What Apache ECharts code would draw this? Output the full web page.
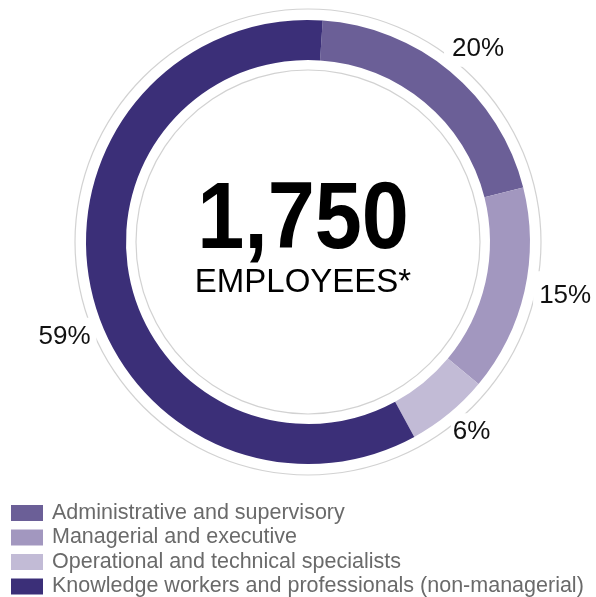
<!DOCTYPE html>
<html>
<head>
<meta charset="utf-8">
<script src="https://cdn.jsdelivr.net/npm/echarts@6/dist/echarts.min.js"></script>
<style>
  html, body { margin: 0; padding: 0; background: #fff; }
  #chart { width: 596px; height: 597px; }
</style>
</head>
<body>
<div id="chart"></div>
<script>
// Workforce breakdown by role group
var categories = [
  'Administrative and supervisory',
  'Managerial and executive',
  'Operational and technical specialists',
  'Knowledge workers and professionals (non-managerial)'
];
var shares = [20, 15, 6, 59];
var colors = ['#6b5f97', '#a297bf', '#c2bbd6', '#3b2f78'];
var totalEmployees = 1750;
var totalCaption = 'EMPLOYEES*';

// Per-slice label placement tweaks (offset and white padding that breaks the outer ring)
var labelTweaks = [
  { offset: [-20, -12], padding: [8, 4, 2, 8] },
  { offset: [-10, 2], padding: [12, 4, 12, 6] },
  { offset: [-12, 7], padding: [6, 4, 4, 2] },
  { offset: [24, 44], padding: [8, 6, 4, 4] }
];

var font = '"Liberation Sans", Arial, Helvetica, sans-serif';
var center = [308, 242];

var pieData = categories.map(function (name, i) {
  return {
    name: name,
    value: shares[i],
    itemStyle: { color: colors[i] },
    label: {
      offset: labelTweaks[i].offset,
      padding: labelTweaks[i].padding
    }
  };
});

function ring(r) {
  return {
    type: 'pie',
    silent: true,
    center: center,
    radius: [r - 0.6, r + 0.6],
    label: { show: false },
    labelLine: { show: false },
    legendHoverLink: false,
    data: [{ name: '', value: 1, itemStyle: { color: '#d2d2d2' } }],
    z: 1
  };
}

var chart = echarts.init(document.getElementById('chart'), null, { renderer: 'canvas' });
chart.setOption({
  animation: false,
  backgroundColor: '#ffffff',
  legend: {
    orient: 'vertical',
    left: 11,
    top: 502,
    height: 120,
    padding: 0,
    icon: 'rect',
    itemWidth: 32,
    itemHeight: 16,
    itemGap: 2.5,
    selectedMode: false,
    data: categories,
    textStyle: { fontFamily: font, fontSize: 21.5, color: '#6a6a6a', padding: [0, 0, 0, 4] }
  },
  graphic: [
    {
      type: 'text',
      x: 303,
      y: 222,
      scaleX: 0.9,
      originX: 0,
      style: {
        text: echarts.format.addCommas(totalEmployees),
        font: 'bold 94px ' + font,
        fill: '#000',
        align: 'center',
        verticalAlign: 'middle'
      }
    },
    {
      type: 'text',
      x: 303,
      y: 283,
      style: {
        text: totalCaption,
        font: '33px ' + font,
        fill: '#000',
        align: 'center',
        verticalAlign: 'middle'
      }
    }
  ],
  series: [
    ring(233),
    ring(172),
    {
      type: 'pie',
      center: center,
      radius: [182, 222],
      startAngle: 86.2,
      clockwise: true,
      avoidLabelOverlap: false,
      silent: true,
      z: 3,
      label: {
        show: true,
        position: 'outside',
        formatter: '{c}%',
        fontFamily: font,
        fontSize: 26,
        color: '#111',
        backgroundColor: '#ffffff'
      },
      labelLine: { show: false, length: 14, length2: 0 },
      data: pieData
    }
  ]
});
</script>
</body>
</html>
